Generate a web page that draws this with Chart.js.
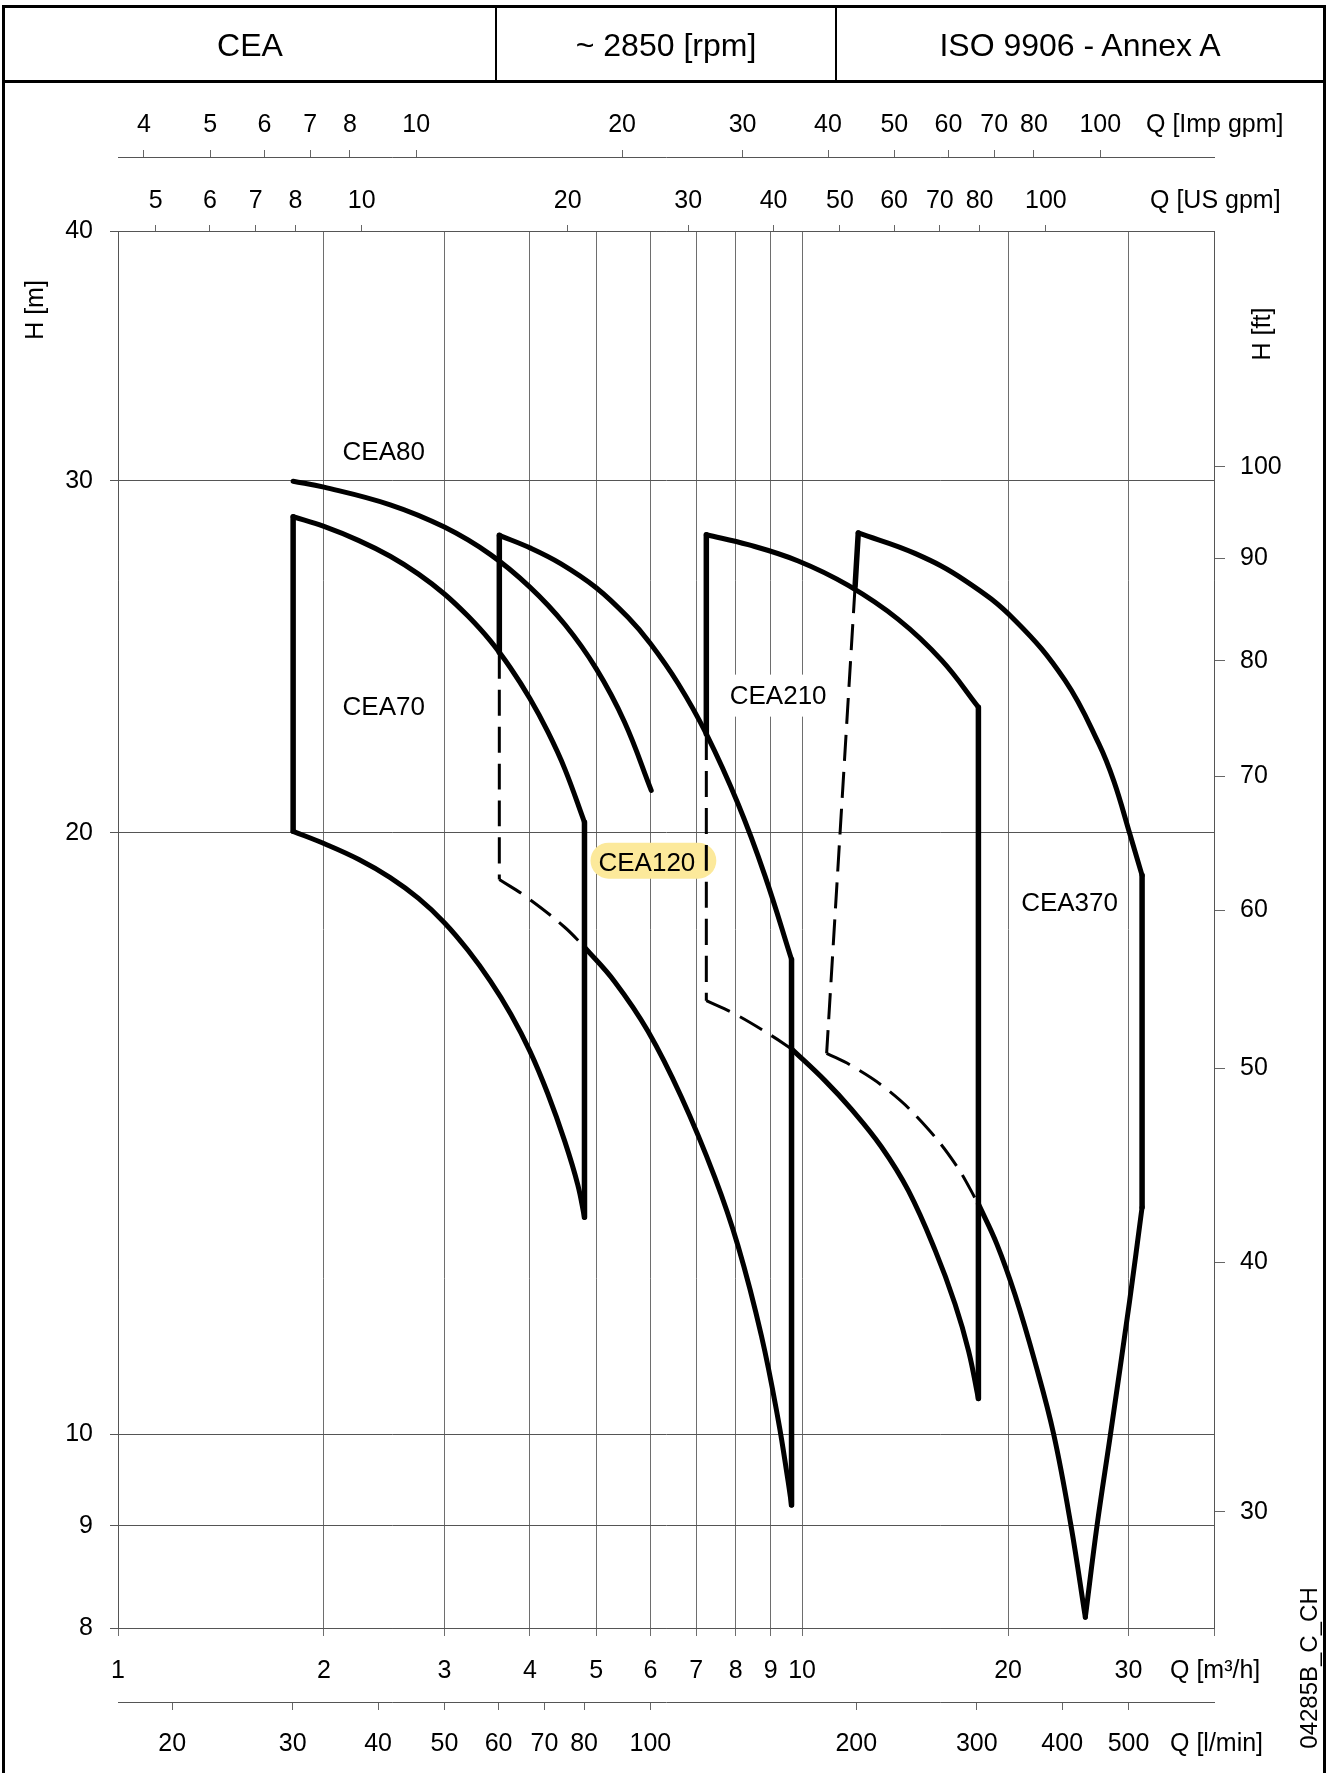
<!DOCTYPE html>
<html>
<head>
<meta charset="utf-8">
<script src="https://cdn.jsdelivr.net/npm/chart.js@4.4.0/dist/chart.umd.min.js"></script>
<style>
  html, body { margin: 0; padding: 0; background: #fff; }
  #wrap { position: relative; width: 1330px; height: 1773px; overflow: hidden;
          font-family: "Liberation Sans", Arial, sans-serif; }
  #c { position: absolute; left: 0; top: 0; }
  #frame { position: absolute; left: 2px; top: 5px; width: 1318px; height: 1800px;
           border: 3px solid #000; }
  .hline { position: absolute; left: 2px; top: 79.5px; width: 1324px; height: 3px; background: #000; }
  .vline { position: absolute; top: 7px; width: 2px; height: 74px; background: #000; }
  .cell { position: absolute; top: 9px; height: 72px; display: flex; align-items: center;
          justify-content: center; font-size: 32px; color: #000; white-space: nowrap; }
</style>
</head>
<body>
<div id="wrap">
  <canvas id="c" width="1330" height="1773"></canvas>
  <div id="frame"></div>
  <div class="hline"></div>
  <div class="vline" style="left:495px"></div>
  <div class="vline" style="left:835px"></div>
  <div class="cell" style="left:5px;width:490px">CEA</div>
  <div class="cell" style="left:497px;width:338px">~ 2850 [rpm]</div>
  <div class="cell" style="left:837px;width:486px">ISO 9906 - Annex A</div>
</div>
<script>
// ---------- axis ranges and tick labels ----------
const Q_MIN = 1, Q_MAX = 40;          // m3/h
const H_MIN = 8, H_MAX = 40;          // m
const IMP_PER_M3H = 3.6662;           // Imp gpm per m3/h
const US_PER_M3H = 4.4029;            // US gpm per m3/h
const LMIN_PER_M3H = 16.6667;         // l/min per m3/h
const FT_PER_M = 3.28084;

const qTicks    = [1, 2, 3, 4, 5, 6, 7, 8, 9, 10, 20, 30, 40];
const hTicks    = [8, 9, 10, 20, 30, 40];
const ftTicks   = [30, 40, 50, 60, 70, 80, 90, 100];
const impTicks  = [4, 5, 6, 7, 8, 10, 20, 30, 40, 50, 60, 70, 80, 100];
const usTicks   = [5, 6, 7, 8, 10, 20, 30, 40, 50, 60, 70, 80, 100];
const lminTicks = [20, 30, 40, 50, 60, 70, 80, 100, 200, 300, 400, 500];

// ---------- curve values [Q m3/h, H m] ----------
const cea80 = [[1.803,29.98],[2.0,29.78],[2.5,29.18],[3.0,28.44],[3.5,27.56],[4.0,26.54],[4.5,25.42],[5.0,24.16],[5.5,22.72],[6.018,21.00]];

const cea70Top    = [[1.803,28.78],[2.0,28.46],[2.25,28.0],[2.5,27.5],[2.75,26.94],[3.0,26.33],[3.25,25.66],[3.5,24.95],[3.75,24.17],[4.0,23.34],[4.25,22.46],[4.5,21.52],[4.807,20.24]];
const cea70Bottom = [[1.803,20.03],[2.0,19.75],[2.25,19.39],[2.5,18.99],[2.75,18.54],[3.0,18.03],[3.25,17.46],[3.5,16.86],[3.75,16.23],[4.0,15.55],[4.25,14.80],[4.5,14.01],[4.7,13.33],[4.807,12.84]];
const cea70Left   = [[1.803,28.78],[1.803,20.03]];
const cea70Right  = [[4.807,20.24],[4.807,12.84]];

const cea120Top        = [[3.609,28.17],[4.017,27.75],[4.443,27.26],[5.0,26.52],[5.565,25.63],[6.0,24.87],[6.587,23.75],[7.244,22.41],[8.062,20.67],[8.820,19.04],[9.650,17.28]];
const cea120LeftSolid  = [[3.609,28.17],[3.609,24.61]];
const cea120LeftDash   = [[3.609,24.61],[3.609,18.95]];
const cea120BottomDash = [[3.609,18.95],[3.972,18.55],[4.493,17.94],[4.807,17.53]];
const cea120Bottom     = [[4.807,17.53],[5.318,16.85],[5.953,15.91],[6.660,14.75],[7.451,13.45],[8.062,12.42],[8.721,11.20],[9.226,10.17],[9.541,9.47],[9.650,9.217]];
const cea120Right      = [[9.650,17.28],[9.650,9.217]];

const cea210Top        = [[7.244,28.19],[8.339,27.87],[9.870,27.35],[11.68,26.59],[13.82,25.57],[16.00,24.39],[18.10,23.11]];
const cea210LeftSolid  = [[7.244,28.19],[7.244,22.41]];
const cea210LeftDash   = [[7.244,22.41],[7.244,16.48]];
const cea210BottomDash = [[7.244,16.48],[7.970,16.23],[9.020,15.83],[9.650,15.59]];
const cea210Bottom     = [[9.650,15.59],[10.80,15.03],[11.81,14.54],[13.07,13.92],[14.30,13.24],[15.65,12.36],[16.73,11.62],[17.51,11.01],[18.10,10.42]];
const cea210Right      = [[18.10,23.11],[18.10,10.42]];

const cea370Top        = [[12.08,28.25],[14.62,27.59],[17.31,26.74],[20.48,25.54],[24.24,23.83],[27.14,22.16],[28.57,21.21],[30.12,19.98],[31.40,19.04]];
const cea370LeftSolid  = [[12.08,28.25],[11.95,26.54]];
const cea370LeftDash   = [[11.95,26.54],[10.86,15.51]];
const cea370BottomDash = [[10.86,15.51],[11.81,15.29],[13.37,14.86],[14.96,14.33],[16.73,13.66],[18.10,13.04]];
const cea370Bottom     = [[18.10,13.04],[19.26,12.45],[20.48,11.74],[21.91,10.86],[23.32,10.0],[24.72,9.0],[25.94,8.10]];
const cea370RightLow   = [[25.94,8.10],[26.98,9.0],[28.23,10.0],[30.11,11.66],[31.40,12.99]];
const cea370Right      = [[31.40,19.04],[31.40,12.99]];

// label anchors [Q, H]
const curveLabels = [
  { text: 'CEA80',  q: 2.129, h: 31.0 },
  { text: 'CEA70',  q: 2.129, h: 23.11 },
  { text: 'CEA120', q: 5.039, h: 19.31, highlight: true },
  { text: 'CEA210', q: 7.837, h: 23.42 },
  { text: 'CEA370', q: 20.90, h: 18.45 }
];

// ---------- styles ----------
const FONT = '"Liberation Sans", Arial, sans-serif';
const SOLID = { borderColor: '#000', borderWidth: 5, pointRadius: 0, fill: false,
                tension: 0.4, borderCapStyle: 'round', borderJoinStyle: 'round' };
const EDGE  = { borderColor: '#000', borderWidth: 5.5, pointRadius: 0, fill: false, tension: 0,
                borderCapStyle: 'round', borderJoinStyle: 'round' };
const DASH  = { borderColor: '#000', borderWidth: 3, pointRadius: 0, fill: false,
                tension: 0.4, borderDash: [26, 11], borderCapStyle: 'butt' };

function ds(points, style) {
  return Object.assign({ data: points.map(p => ({ x: p[0], y: p[1] })), xAxisID: 'x', yAxisID: 'y' }, style);
}

const datasets = [
  ds(cea80, SOLID),
  ds(cea70Top, SOLID), ds(cea70Bottom, SOLID), ds(cea70Left, EDGE), ds(cea70Right, EDGE),
  ds(cea120Top, SOLID), ds(cea120LeftSolid, EDGE), ds(cea120LeftDash, DASH),
  ds(cea120BottomDash, DASH), ds(cea120Bottom, SOLID), ds(cea120Right, EDGE),
  ds(cea210Top, SOLID), ds(cea210LeftSolid, EDGE), ds(cea210LeftDash, DASH),
  ds(cea210BottomDash, DASH), ds(cea210Bottom, SOLID), ds(cea210Right, EDGE),
  ds(cea370Top, SOLID), ds(cea370LeftSolid, EDGE), ds(cea370LeftDash, DASH),
  ds(cea370BottomDash, DASH), ds(cea370Bottom, SOLID), ds(cea370RightLow, SOLID), ds(cea370Right, EDGE)
];

// ---------- helpers for scales ----------
function fixedSize(size) {
  return function (scale) { if (scale.isHorizontal()) scale.height = size; else scale.width = size; };
}
function setTicks(list) {
  return function (scale) { scale.ticks = list.map(v => ({ value: v })); };
}
const tickFont = { family: FONT, size: 25 };
function axis(extra) {
  const base = {
    type: 'logarithmic',
    ticks: { autoSkip: false, maxRotation: 0, minRotation: 0, font: tickFont, color: '#000',
             callback: v => String(v) },
    grid: { color: '#666', lineWidth: 1 },
    border: { display: true, color: '#555', width: 1 }
  };
  const out = Object.assign({}, base, extra);
  out.ticks = Object.assign({}, base.ticks, extra.ticks || {});
  out.grid = Object.assign({}, base.grid, extra.grid || {});
  out.border = Object.assign({}, base.border, extra.border || {});
  return out;
}

// ---------- plugins ----------
const labelPlugin = {
  id: 'curveLabels',
  beforeDatasetsDraw(chart) {
    const ctx = chart.ctx, xs = chart.scales.x, ys = chart.scales.y;
    ctx.save();
    ctx.font = '26px ' + FONT;
    ctx.textBaseline = 'middle';
    ctx.textAlign = 'left';
    curveLabels.forEach(l => {
      const px = xs.getPixelForValue(l.q), py = ys.getPixelForValue(l.h);
      const w = ctx.measureText(l.text).width;
      if (l.highlight) {
        ctx.fillStyle = '#fce99b';
        ctx.beginPath();
        ctx.roundRect(px - 8, py - 20.5, w + 29, 36, 18);
        ctx.fill();
      } else {
        ctx.fillStyle = '#fff';
        ctx.fillRect(px - 4, py - 21, w + 8, 42);
      }
      ctx.fillStyle = '#000';
      ctx.fillText(l.text, px, py + 1);
    });
    ctx.restore();
  }
};

const titlePlugin = {
  id: 'axisTitles',
  afterDraw(chart) {
    const ctx = chart.ctx;
    ctx.save();
    ctx.fillStyle = '#000';
    ctx.font = '25px ' + FONT;
    ctx.textBaseline = 'middle';
    ctx.textAlign = 'left';
    ctx.fillText('Q [Imp gpm]', 1146, 125);
    ctx.fillText('Q [US gpm]', 1150, 201);
    ctx.fillText('Q [m\u00B3/h]', 1170, 1671);
    ctx.fillText('Q [l/min]', 1170, 1744);
    const rot = (t, x, y, size) => {
      ctx.save();
      ctx.translate(x, y);
      ctx.rotate(-Math.PI / 2);
      ctx.font = size + 'px ' + FONT;
      ctx.textAlign = 'center';
      ctx.fillText(t, 0, 0);
      ctx.restore();
    };
    rot('H [m]', 36, 310, 25);
    rot('H [ft]', 1263, 334, 25);
    rot('04285B_C_CH', 1310, 1668, 24);
    ctx.restore();
  }
};

// ---------- chart ----------
new Chart(document.getElementById('c'), {
  type: 'line',
  data: { datasets },
  plugins: [labelPlugin, titlePlugin],
  options: {
    responsive: false,
    animation: false,
    devicePixelRatio: 1,
    layout: { padding: { top: 82, left: 18, right: 16, bottom: 11 } },
    plugins: { legend: { display: false }, tooltip: { enabled: false } },
    scales: {
      x: axis({ position: 'bottom', weight: 0, min: Q_MIN, max: Q_MAX,
                afterBuildTicks: setTicks(qTicks), afterFit: fixedSize(74),
                ticks: { padding: 20, callback: v => (v === 40 ? '' : String(v)) },
                grid: { color: '#6e6e6e', tickLength: 8 } }),
      xl: axis({ position: 'bottom', weight: 1, min: Q_MIN * LMIN_PER_M3H, max: Q_MAX * LMIN_PER_M3H,
                 afterBuildTicks: setTicks(lminTicks), afterFit: fixedSize(60),
                 ticks: { padding: 19 }, grid: { drawOnChartArea: false, tickLength: 8 } }),
      xus: axis({ position: 'top', weight: 0, min: Q_MIN * US_PER_M3H, max: Q_MAX * US_PER_M3H,
                  afterBuildTicks: setTicks(usTicks), afterFit: fixedSize(74),
                  ticks: { padding: 9 }, grid: { drawOnChartArea: false, tickLength: 6 } }),
      ximp: axis({ position: 'top', weight: 1, min: Q_MIN * IMP_PER_M3H, max: Q_MAX * IMP_PER_M3H,
                   afterBuildTicks: setTicks(impTicks), afterFit: fixedSize(75),
                   ticks: { padding: 10 }, grid: { drawOnChartArea: false, tickLength: 7 } }),
      y: axis({ position: 'left', min: H_MIN, max: H_MAX,
                afterBuildTicks: setTicks(hTicks), afterFit: fixedSize(100),
                ticks: { padding: 17 }, grid: { color: '#555', tickLength: 8 } }),
      yft: axis({ position: 'right', min: H_MIN * FT_PER_M, max: H_MAX * FT_PER_M,
                  afterBuildTicks: setTicks(ftTicks), afterFit: fixedSize(100),
                  ticks: { padding: 15 }, grid: { drawOnChartArea: false, tickLength: 11 } })
    }
  }
});
</script>
</body>
</html>
